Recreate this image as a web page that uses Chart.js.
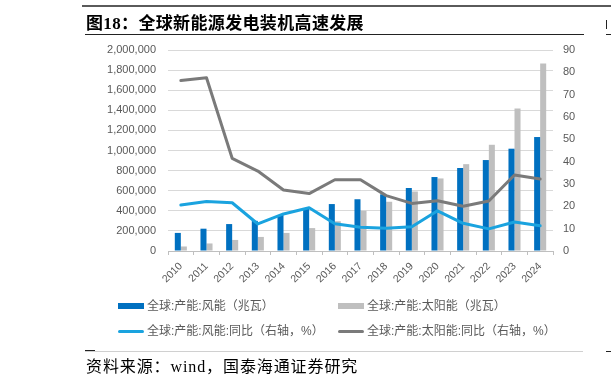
<!DOCTYPE html>
<html>
<head>
<meta charset="utf-8">
<script src="https://cdn.jsdelivr.net/npm/chart.js@4"></script>
<style>
  html, body { margin:0; padding:0; background:#fff; width:611px; height:384px; overflow:hidden; }
  #wrap { position:relative; width:611px; height:384px; }
  canvas { position:absolute; left:0; top:0; }
  .abs { position:absolute; }
  .title { left:86px; top:9px; font-family:"Liberation Serif","Noto Sans CJK SC",serif; font-weight:bold; font-size:17px; letter-spacing:0.35px; color:#000; white-space:nowrap; }
  .src { left:86px; top:353px; font-family:"Liberation Serif","Noto Sans CJK SC",serif; font-size:16px; letter-spacing:0.9px; color:#000; white-space:nowrap; }
  .leg { font-family:"Liberation Sans","Noto Sans CJK SC",sans-serif; font-size:12px; color:#595959; white-space:nowrap; line-height:14px; }
</style>
</head>
<body>
<div id="wrap">
  <canvas id="c" width="611" height="384"></canvas>
  <div class="abs" style="left:82px;top:5px;width:529px;height:2px;background:#5a5a5a;"></div>
  <div class="abs title">图18：全球新能源发电装机高速发展</div>
  <div class="abs" style="left:85px;top:34px;width:499px;height:1px;background:#222;"></div>
  <div class="abs" style="left:606px;top:34px;width:5px;height:1px;background:#222;"></div>
  <div class="abs" style="left:606px;top:20px;width:1px;height:9px;background:#222;"></div>
  <div id="legend"></div>
  <div class="abs" style="left:85px;top:351px;width:498px;height:1px;background:#d0d0d0;"></div>
  <div class="abs" style="left:85px;top:350px;width:10px;height:1px;background:#222;"></div>
  <div class="abs" style="left:606px;top:351px;width:5px;height:1px;background:#222;"></div>
  <div class="abs src">资料来源：wind，国泰海通证券研究</div>
</div>
<script>
const years = ['2010','2011','2012','2013','2014','2015','2016','2017','2018','2019','2020','2021','2022','2023','2024'];
const windCapacity  = [180000, 222000, 268000, 300000, 358000, 425000, 467000, 515000, 564000, 627000, 736000, 826000, 905000, 1018000, 1134000];
const solarCapacity = [45000, 75000, 110000, 140000, 180000, 228000, 296000, 400000, 490000, 592000, 722000, 864000, 1057000, 1418000, 1866000];
const windYoY  = [20.6, 22.2, 21.6, 12.1, 16.6, 19.4, 12.2, 10.6, 10.2, 10.9, 18.0, 12.4, 9.9, 13.0, 11.3];
const solarYoY = [76.3, 77.6, 41.5, 35.8, 27.3, 25.7, 31.9, 31.9, 24.8, 21.3, 22.5, 20.0, 22.4, 34.0, 32.2];
const leftTicksMax = 2000000, leftStep = 200000;
const rightTicksMax = 90, rightStep = 10;
const labels = ['全球:产能:风能（兆瓦）','全球:产能:太阳能（兆瓦）','全球:产能:风能:同比（右轴，%）','全球:产能:太阳能:同比（右轴，%）'];
const colors = ['#0070C0','#BFBFBF','#1AA3DF','#7A7A7A'];

const tickFont = {family:'"Liberation Sans", Arial, sans-serif', size:11};
new Chart(document.getElementById('c'), {
  type:'bar',
  data:{
    labels: years,
    datasets:[
      {type:'bar', label:labels[0], data:windCapacity, backgroundColor:colors[0], yAxisID:'y', order:2, categoryPercentage:0.47, barPercentage:1},
      {type:'bar', label:labels[1], data:solarCapacity, backgroundColor:colors[1], yAxisID:'y', order:2, categoryPercentage:0.47, barPercentage:1},
      {type:'line', label:labels[2], data:windYoY, borderColor:colors[2], backgroundColor:colors[2], borderWidth:3, pointRadius:0, tension:0, yAxisID:'y1', order:1, borderJoinStyle:'round', borderCapStyle:'round'},
      {type:'line', label:labels[3], data:solarYoY, borderColor:colors[3], backgroundColor:colors[3], borderWidth:3, pointRadius:0, tension:0, yAxisID:'y1', order:0, borderJoinStyle:'round', borderCapStyle:'round'}
    ]
  },
  options:{
    responsive:false, animation:false, devicePixelRatio:1,
    layout:{padding:{left:60, right:0, top:50, bottom:93}},
    plugins:{legend:{display:false}, tooltip:{enabled:false}, title:{display:false}},
    scales:{
      x:{
        offset:true,
        grid:{offset:true, drawOnChartArea:false, drawTicks:true, tickLength:4, color:'#BFBFBF'},
        border:{display:true, color:'#BFBFBF'},
        ticks:{maxRotation:45, minRotation:45, autoSkip:false, font:{family:tickFont.family, size:10.5}, color:'#595959', padding:5},
        afterFit:(s)=>{ s.height = 40; }
      },
      y:{
        position:'left', min:0, max:leftTicksMax,
        ticks:{stepSize:leftStep, font:tickFont, color:'#595959', padding:12, callback:(v)=>v.toLocaleString('en-US')},
        grid:{color:'#D9D9D9', drawTicks:false, lineWidth:1},
        border:{display:false},
        afterFit:(s)=>{ s.width = 108; }
      },
      y1:{
        position:'right', min:0, max:rightTicksMax,
        ticks:{stepSize:rightStep, font:tickFont, color:'#595959', padding:10},
        grid:{drawOnChartArea:false, drawTicks:false},
        border:{display:false},
        afterFit:(s)=>{ s.width = 58; }
      }
    }
  }
});

// HTML legend built from dataset labels/colors
const leg = document.getElementById('legend');
const pos = [[118,306],[338,306],[118,331],[338,331]];
labels.forEach((t,i)=>{
  const [x,y] = pos[i];
  const sym = document.createElement('div');
  sym.className='abs';
  const isBar = i<2;
  sym.style.cssText = `left:${x}px;top:${isBar? y-3 : y-1.5}px;width:26px;height:${isBar?6:3}px;background:${colors[i]};` + (isBar?'':'border-radius:1.5px;');
  leg.appendChild(sym);
  const tx = document.createElement('div');
  tx.className='abs leg';
  tx.style.left = (x+29)+'px';
  tx.style.top = (y-7)+'px';
  tx.textContent = t;
  leg.appendChild(tx);
});
</script>
</body>
</html>
